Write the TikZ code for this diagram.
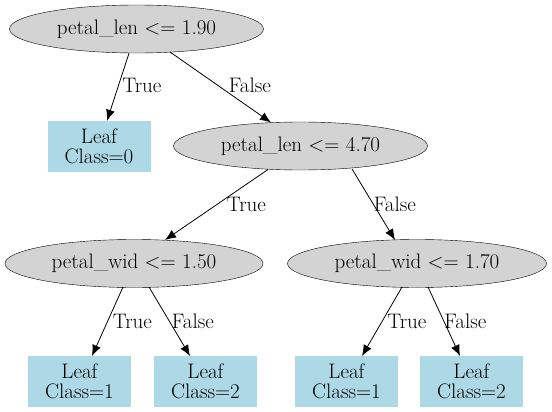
\documentclass[tikz,border=0pt]{standalone}
\usetikzlibrary{shapes.geometric,arrows.meta}

\tikzset{
	test/.style={ellipse,draw,fill={rgb,255:red,211;green,211;blue,211},inner sep=0pt,minimum width=254pt,minimum height=48pt},
	leaf/.style={rectangle,fill={rgb,255:red,173;green,216;blue,230},inner sep=0pt,minimum width=103pt,minimum height=51pt,align=center},
	edge/.style={-{Latex[length=11pt,width=9pt]},line width=.8pt},
	lbl/.style={midway,right,inner sep=2pt}
}

\begin{document}
\begin{tikzpicture}[x=1pt,y=-1pt,font=\fontsize{21}{20}\selectfont]
			\useasboundingbox (0,0) rectangle (552,412);
			% tests
			\node[test] (root) at (136.5,29) {petal\_len <= 1.90};
			\node[test] (len) at (300.5,146) {petal\_len <= 4.70};
			\node[test,minimum width=258pt] (widA) at (134,263.5) {petal\_wid <= 1.50};
			\node[test,minimum width=259pt] (widB) at (417,263.5) {petal\_wid <= 1.70};
			% leaves
			\node[leaf] (leafA) at (99,146.5) {Leaf\\Class=0};
			\node[leaf] (leafB) at (79.5,381.5) {Leaf\\Class=1};
			\node[leaf] (leafC) at (205.5,381.5) {Leaf\\Class=2};
			\node[leaf] (leafD) at (346.5,381.5) {Leaf\\Class=1};
			\node[leaf] (leafE) at (471.5,381.5) {Leaf\\Class=2};
			
			\draw[edge] (root.south -| 129,0) -- node[lbl,xshift=2pt,yshift=1.5pt]{True} (leafA.north -| 107,0);
			\draw[edge] (170,52) -- node[lbl,xshift=6pt,yshift=1.5pt]{False} (271,122.5);
			\draw[edge] (268,169.5) -- node[lbl,xshift=8pt]{True} (165,240);
			\draw[edge] (352,169) -- node[lbl,inner sep=0pt]{False} (395,240);
			\draw[edge] (123,287) -- node[lbl,xshift=3pt]{True} (92,356);
			\draw[edge] (149,287) -- node[lbl]{False} (190,356);
			\draw[edge] (402,287) -- node[lbl,xshift=3pt]{True} (362,356);
			\draw[edge] (428,287) -- node[lbl,inner sep=0pt]{False} (460,356);
		\end{tikzpicture}
\end{document}
